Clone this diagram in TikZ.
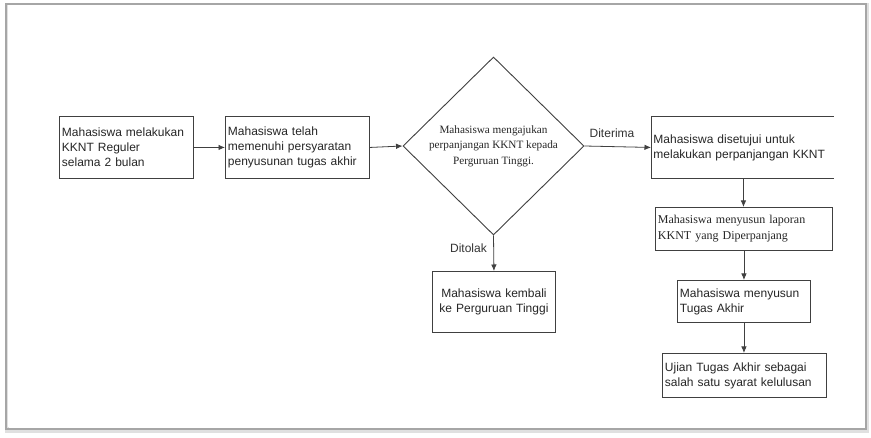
\documentclass[tikz,border=0pt]{standalone}
\usepackage{fontspec}
\setmainfont{Liberation Sans}
\newfontfamily\serifb{Liberation Serif}
\usetikzlibrary{shapes.geometric,arrows.meta}
\begin{document}
\begin{tikzpicture}[x=1pt,y=-1pt,
  box/.style={draw=black!75, line width=0.9pt, inner xsep=2.5pt, inner ysep=0pt, align=left, font=\fontsize{12}{15}\selectfont, anchor=north west, text=black!85},
  cbox/.style={box, align=center},
  arr/.style={draw=black!75, line width=0.8pt, -{Latex[length=6.5pt,width=5.5pt]}},
  lbl/.style={font=\fontsize{12}{15}\selectfont, inner sep=0pt, text=black!80}
]
\useasboundingbox (0,0) rectangle (871,438);
% frame with shadow
\draw[line width=4pt, black!12] (7,5) rectangle (867,431);
\draw[line width=1.2pt, black!35] (6,4) rectangle (866,429);
\fill[white] (7.5,5.5) rectangle (864.5,427.5);

% boxes
\node[box, minimum width=134pt, minimum height=62pt, text width=129pt] (b1) at (59,116) {Mahasiswa melakukan\\KKNT Reguler\\selama 2 bulan};
\node[box, minimum width=144pt, minimum height=62pt, text width=139pt] (b2) at (225,116) {Mahasiswa telah\\memenuhi persyaratan\\penyusunan tugas akhir};
\node[diamond, draw=black!75, line width=0.9pt, minimum width=181pt, minimum height=178pt, inner sep=0pt] (d) at (493.5,146) {};
\node[align=center, inner sep=0pt, text=black!85, font=\serifb\fontsize{11.2}{15.5}\selectfont] (dt) at (d.center) {Mahasiswa mengajukan\\perpanjangan KKNT kepada\\Perguruan Tinggi.};
\node[box, draw=none, minimum width=182pt, minimum height=62pt, text width=178pt, inner xsep=2pt] (b4) at (651,116) {Mahasiswa disetujui untuk\\melakukan perpanjangan KKNT};
\draw[black!75, line width=0.9pt] (b4.north east) -- (b4.north west) -- (b4.south west) -- (b4.south east);
\node[box, minimum width=177pt, minimum height=43pt, text width=172pt, font=\serifb\fontsize{12}{16}\selectfont] (b5) at (655,207) {Mahasiswa menyusun laporan\\KKNT yang Diperpanjang};
\node[box, minimum width=133pt, minimum height=42pt, text width=128pt] (b6) at (677,280) {Mahasiswa menyusun\\Tugas Akhir};
\node[box, minimum width=164pt, minimum height=44pt, text width=159pt] (b7) at (662,353) {Ujian Tugas Akhir sebagai\\salah satu syarat kelulusan};
\node[cbox, minimum width=123pt, minimum height=61pt, text width=118pt] (b3) at (432,271) {Mahasiswa kembali\\ke Perguruan Tinggi};

% connectors
\draw[arr] (b1.east) -- (b2.west);
\draw[arr] (b2.east) -- (d.west);
\draw[arr] (d.east) -- (b4.west);
\draw[arr] (d.south) -- (b3.north);
\draw[arr] (b4.south -| b5.north) ++(-0.5,0) coordinate (c45) -- (c45 |- b5.north);
\draw[arr] (b5.south) -- (b5.south |- b6.north);
\draw[arr] (b6.south) -- (b6.south |- b7.north);

% labels
\node[lbl] (ldit) at (612,133) {Diterima};
\node[lbl, anchor=east] (ltol) at (487,248) {Ditolak};
\end{tikzpicture}
\end{document}
